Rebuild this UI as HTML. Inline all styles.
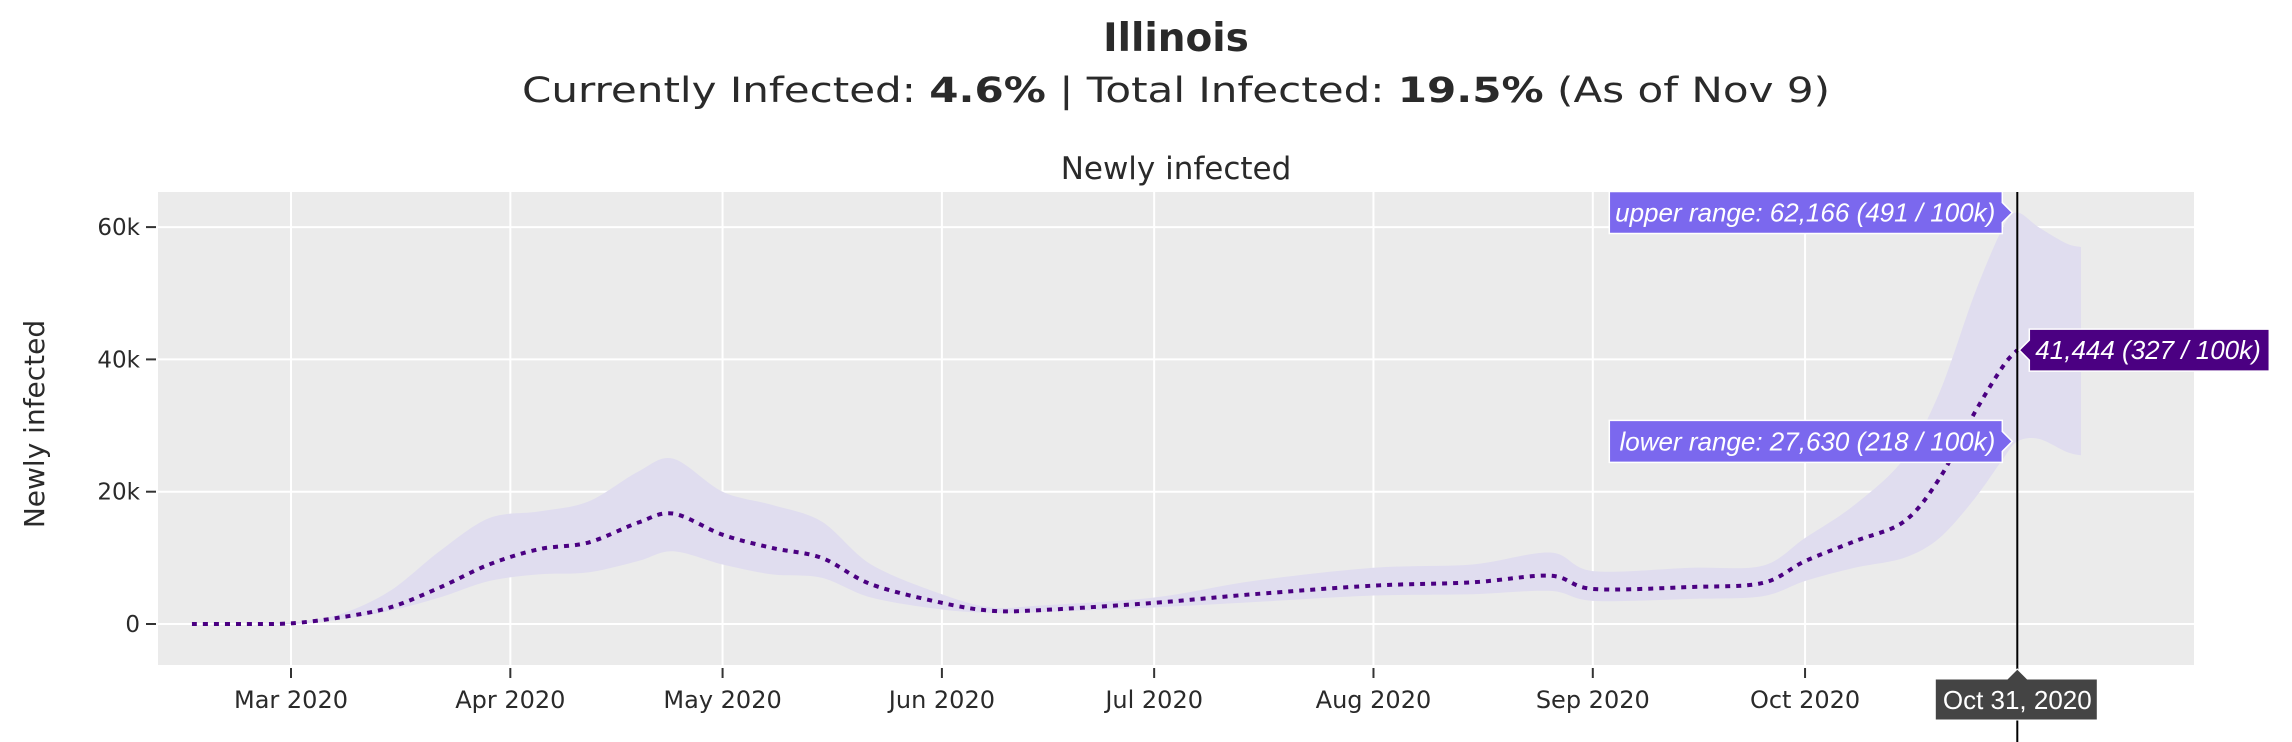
<!DOCTYPE html>
<html><head><meta charset="utf-8"><style>
html,body{margin:0;padding:0;background:#fff;}
svg{display:block;font-family:"DejaVu Sans","Liberation Sans",sans-serif;}
.hv{font-family:"Liberation Sans",sans-serif;}
</style></head><body>
<svg id="chart" width="2292" height="742" viewBox="0 0 2292 742" xmlns="http://www.w3.org/2000/svg">
<text x="1176" y="51" text-anchor="middle" font-size="39" font-weight="bold" fill="#2a2a2a">Illinois</text>
<text x="1176" y="102" text-anchor="middle" font-size="35" fill="#2a2a2a" textLength="1308" lengthAdjust="spacingAndGlyphs">Currently Infected: <tspan font-weight="bold">4.6%</tspan> | Total Infected: <tspan font-weight="bold">19.5%</tspan> (As of Nov 9)</text>
<text x="1176" y="179" text-anchor="middle" font-size="31" fill="#2a2a2a">Newly infected</text>
<text transform="translate(44,424) rotate(-90)" text-anchor="middle" font-size="28" fill="#2a2a2a">Newly infected</text>
<rect x="158" y="192" width="2036" height="473" fill="#ebebeb"/>
<g id="grid"></g>
<g id="marks"></g>
<g id="axes"></g>
<g id="hover" class="hv"></g>
</svg>
<script>
const dates = ["2020-02-16","2020-02-23","2020-03-01","2020-03-08","2020-03-15","2020-03-22","2020-03-29","2020-04-05","2020-04-12","2020-04-19","2020-04-24","2020-05-01","2020-05-08","2020-05-15","2020-05-22","2020-06-01","2020-06-08","2020-06-15","2020-07-01","2020-07-15","2020-08-01","2020-08-15","2020-08-26","2020-09-01","2020-09-15","2020-09-25","2020-10-01","2020-10-08","2020-10-15","2020-10-20","2020-10-25","2020-10-29","2020-10-31","2020-11-03","2020-11-07","2020-11-09"];
const meanK = [0,0,0.1,1,2.5,5.5,9,11.3,12.3,15.3,16.7,13.5,11.5,10,6,3.2,2,2.1,3.2,4.5,5.8,6.3,7.3,5.3,5.6,6.2,9.5,12.5,15.5,22,32,39,41.4,null,null,null];
const upperK = [0,0,0.2,1.5,5,11,16,17,18.5,23,25,20,18,15.5,9,4.5,2.5,2.8,4,6.5,8.5,9,10.8,8,8.5,8.8,13,18,25,35,50,60,62.2,60,57.5,57];
const lowerK = [0,0,0,0.7,2,4,6.5,7.5,7.8,9.5,11,9,7.5,7,4,2.2,1.7,1.8,2.5,3.3,4.3,4.5,5,3.5,3.8,4.2,6.5,8.5,10,13,19,25,27.6,28,26,25.5];
const yTicks = [0,20,40,60];
const yTickLabels = ["0","20k","40k","60k"];
const xTickDates = ["2020-03-01","2020-04-01","2020-05-01","2020-06-01","2020-07-01","2020-08-01","2020-09-01","2020-10-01"];
const xTickLabels = ["Mar 2020","Apr 2020","May 2020","Jun 2020","Jul 2020","Aug 2020","Sep 2020","Oct 2020"];
const hoverDate = "2020-10-31";
const hoverLabels = ["upper range: 62,166 (491 / 100k)","41,444 (327 / 100k)","lower range: 27,630 (218 / 100k)","Oct 31, 2020"];

const NS="http://www.w3.org/2000/svg";
const day0 = Date.UTC(2020,2,1);
function days(s){const p=s.split('-');return (Date.UTC(+p[0],+p[1]-1,+p[2])-day0)/86400000;}
function X(s){return 291 + days(s)*7.075;}
function Y(k){return 624 - k*6.615;}
function mk(tag,attrs,parent){const e=document.createElementNS(NS,tag);for(const k in attrs)e.setAttribute(k,attrs[k]);parent.appendChild(e);return e;}
function spline(pts,move){
  let d=move?`M${pts[0][0]},${pts[0][1]}`:`L${pts[0][0]},${pts[0][1]}`;
  for(let i=0;i<pts.length-1;i++){
    const p0=pts[Math.max(0,i-1)],p1=pts[i],p2=pts[i+1],p3=pts[Math.min(pts.length-1,i+2)];
    const t=0.16;
    const c1=[p1[0]+(p2[0]-p0[0])*t,p1[1]+(p2[1]-p0[1])*t];
    const c2=[p2[0]-(p3[0]-p1[0])*t,p2[1]-(p3[1]-p1[1])*t];
    d+=` C${c1[0]},${c1[1]} ${c2[0]},${c2[1]} ${p2[0]},${p2[1]}`;
  }
  return d;
}
const grid=document.getElementById('grid'),marks=document.getElementById('marks'),axes=document.getElementById('axes'),hover=document.getElementById('hover');

yTicks.forEach((v,i)=>{
  const g=mk('line',{x1:158,x2:2194,y1:Y(v),y2:Y(v),stroke:'#fff','stroke-width':2},grid);
  
  
  const t=mk('line',{x1:146,x2:156,y1:Y(v),y2:Y(v),stroke:'#333','stroke-width':2},axes);
  
  
  const l=mk('text',{x:140,y:Y(v)+8,'text-anchor':'end','font-size':23,fill:'#2a2a2a'},axes);
  l.textContent=yTickLabels[i];
  
  
});
xTickDates.forEach((d,i)=>{
  const x=X(d);
  const g=mk('line',{x1:x,x2:x,y1:192,y2:665,stroke:'#fff','stroke-width':2},grid);
  
  
  const t=mk('line',{x1:x,x2:x,y1:668,y2:678,stroke:'#333','stroke-width':2},axes);
  
  
  const l=mk('text',{x:x,y:708,'text-anchor':'middle','font-size':24,fill:'#2a2a2a'},axes);
  l.textContent=xTickLabels[i];
  
  
});

let up=[],lo=[];
dates.forEach((d,i)=>{up.push([X(d),Y(upperK[i])]);lo.push([X(d),Y(lowerK[i])]);});
const band=mk('path',{d:spline(up,true)+' '+spline(lo.reverse(),false)+' Z',fill:'#e0ddef'},marks);


let mp=[];
dates.forEach((d,i)=>{if(meanK[i]!==null)mp.push([X(d),Y(meanK[i])]);});
const line=mk('path',{d:spline(mp,true),fill:'none',stroke:'#4b0082','stroke-width':4,'stroke-dasharray':'5,6'},marks);



const hx=X(hoverDate);
const cl=mk('line',{x1:hx,x2:hx,y1:192,y2:742,stroke:'#000','stroke-width':2},hover);


const iU=dates.indexOf(hoverDate);
function leftBox(k,label,name){
  const y=Y(k);
  const g=mk('g',{},hover);
  
  
  mk('polygon',{points:`${hx-5},${y} ${hx-15},${y-10} ${hx-15},${y-21} ${hx-408},${y-21} ${hx-408},${y+21} ${hx-15},${y+21} ${hx-15},${y+10}`,fill:'#7b68ee',stroke:'#fff','stroke-width':1.5},g);
  const t=mk('text',{x:hx-22,y:y+9,'text-anchor':'end','font-size':26,'font-style':'italic',fill:'#fff'},g);
  t.textContent=label;
}
leftBox(upperK[iU],hoverLabels[0],'upper-range-label');
leftBox(lowerK[iU],hoverLabels[2],'lower-range-label');
(function(){
  const y=Y(meanK[iU]);
  const g=mk('g',{},hover);
  
  
  mk('polygon',{points:`${hx+2},${y} ${hx+12},${y-10} ${hx+12},${y-21} ${hx+252},${y-21} ${hx+252},${y+21} ${hx+12},${y+21} ${hx+12},${y+10}`,fill:'#4b0082',stroke:'#fff','stroke-width':1.5},g);
  const t=mk('text',{x:hx+18,y:y+9,'font-size':26,'font-style':'italic',fill:'#fff'},g);
  t.textContent=hoverLabels[1];
})();
(function(){
  const g=mk('g',{},hover);
  
  
  mk('polygon',{points:`${hx},669 ${hx+10},679 ${hx+80},679 ${hx+80},720 ${hx-82},720 ${hx-82},679 ${hx-10},679`,fill:'#444',stroke:'#fff','stroke-width':1},g);
  const t=mk('text',{x:hx,y:709,'text-anchor':'middle','font-size':26,fill:'#fff'},g);
  t.textContent=hoverLabels[3];
})();
</script>
</body></html>
